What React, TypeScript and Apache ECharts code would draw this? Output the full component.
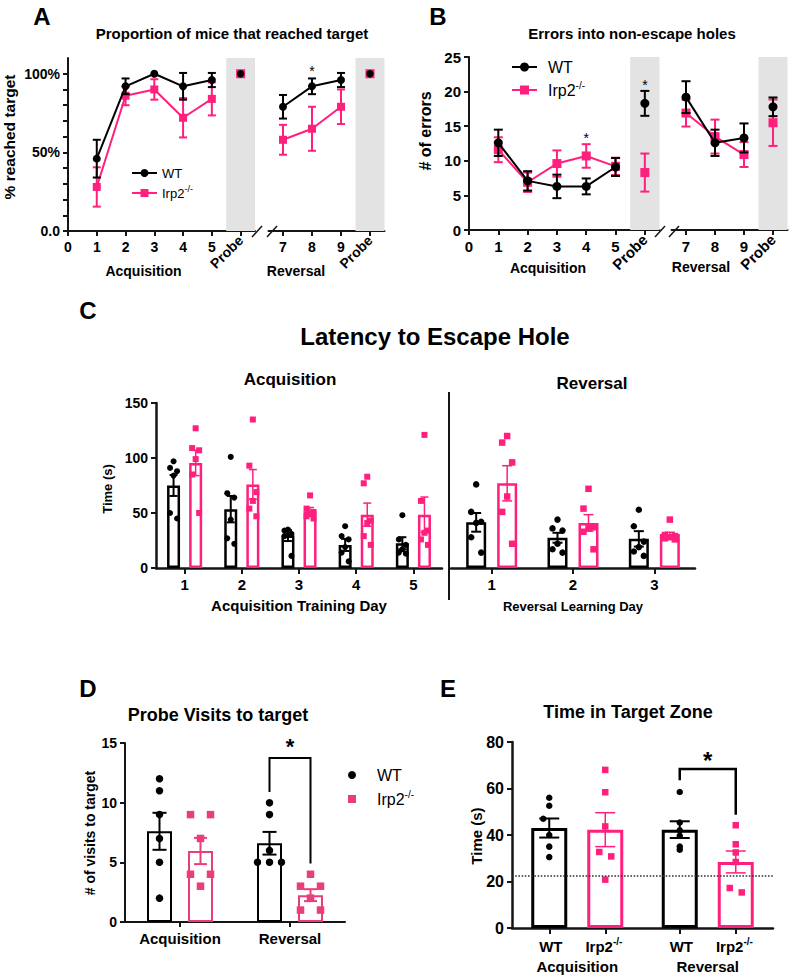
import React, { useEffect, useRef } from 'react';
import * as echarts from 'echarts';

// ---------------- Panel A: proportion of mice that reached target (%) ----------------
const aAcqDays = [1, 2, 3, 4, 5];
const aRevDays = [7, 8, 9];
const aProbeDays = [6, 10];
const aWtAcqMean = [46, 92, 100, 92, 96];
const aWtAcqSem = [12, 5, 0, 8.5, 4.5];
const aIrpAcqMean = [28, 86, 90, 72, 84];
const aIrpAcqSem = [12.5, 6, 6.5, 12.5, 10.5];
const aWtRevMean = [79, 92, 96];
const aWtRevSem = [7.5, 5, 4.5];
const aIrpRevMean = [58, 65, 79];
const aIrpRevSem = [9.5, 14, 11];
const aWtProbe = [100, 100];
const aIrpProbe = [100, 100];
const aStars = [[8, 103.5]];
const aYLabels = [0, 50, 100];

// ---------------- Panel B: errors into non-escape holes ----------------
const bAcqDays = [1, 2, 3, 4, 5];
const bRevDays = [7, 8, 9];
const bProbeDays = [6, 10];
const bWtAcqMean = [12.6, 7.1, 6.3, 6.3, 9.1];
const bWtAcqSem = [1.9, 1.4, 1.7, 1.15, 1.3];
const bIrpAcqMean = [11.6, 6.9, 9.6, 10.7, 9.2];
const bIrpAcqSem = [1.8, 1.4, 1.9, 1.7, 1.25];
const bWtRevMean = [19.2, 12.6, 13.3];
const bWtRevSem = [2.3, 1.9, 2.1];
const bIrpRevMean = [16.9, 13.5, 10.9];
const bIrpRevSem = [1.95, 2.45, 1.8];
const bWtProbe = [18.3, 17.8];
const bWtProbeSem = [1.8, 1.35];
const bIrpProbe = [8.3, 15.5];
const bIrpProbeSem = [2.75, 3.35];
const bStars = [[4, 13.8], [6, 21.4]];

// ---------------- Panel C: latency to escape hole (s) ----------------
const cAcqDays = ['1', '2', '3', '4', '5'];
const cRevDays = ['1', '2', '3'];
const cWtAcqMean = [75, 53.5, 29.5, 21, 22.5];
const cWtAcqSem = [9.5, 12, 5, 5.5, 5.5];
const cIrpAcqMean = [95.5, 76, 51.5, 48.5, 48.5];
const cIrpAcqSem = [11.5, 13.5, 3.5, 10.5, 16];
const cWtAcqPts = [
  [97, 91, 88, 84, 50, 45],
  [101, 68, 64, 44, 27, 22],
  [35, 34, 31, 30, 29, 11],
  [38, 29, 26, 19, 14, 6],
  [48, 26, 21, 17, 14, 13],
];
const cIrpAcqPts = [
  [127, 109, 107, 99, 85, 50],
  [135, 93, 69, 61, 54, 47],
  [66, 54, 51, 49, 47, 45],
  [83, 77, 43, 41, 29, 21],
  [121, 61, 34, 32, 26, 21],
];
const cWtRevMean = [41.5, 27.5, 26.5];
const cWtRevSem = [8.5, 4.5, 7];
const cIrpRevMean = [77, 41, 31];
const cIrpRevSem = [16, 7.5, 1.5];
const cWtRevPts = [
  [76, 51, 42, 41, 28, 14],
  [44, 36, 34, 22, 17, 14],
  [53, 38, 24, 19, 15, 11],
];
const cIrpRevPts = [
  [120, 114, 96, 65, 51, 22],
  [72, 54, 37, 36, 33, 17],
  [44, 30, 29, 28, 27, 26],
];

// ---------------- Panel D: probe visits to target ----------------
const dGroups = ['Acquisition', 'Reversal'];
const dWtMean = [7.6, 6.6];
const dWtSem = [1.55, 0.95];
const dIrpMean = [5.95, 2.25];
const dIrpSem = [1.1, 0.5];
const dWtPts = [[12, 11, 9, 7, 5, 2], [10, 9, 6, 5, 5, 5]];
const dIrpPts = [[9, 9, 7, 4, 4, 3], [4, 3, 3, 2, 1, 1]];
const dWtCols = [[0, 0, 0, 0, 0, 0], [0, 0, 0, -1, 0, 1]];
const dIrpCols = [[-1, 1, 0, -1, 1, 0], [0, -1, 1, 0, -1, 1]];
const dBracket = [1, 13.75, 10.9, 4.9];

// ---------------- Panel E: time in target zone (s) ----------------
const eGroups = ['Acquisition', 'Reversal'];
const eWtMean = [43, 42.3];
const eWtSem = [4.1, 3.6];
const eIrpMean = [42.3, 28.4];
const eIrpSem = [7.3, 4.7];
const eWtPts = [[56, 52.6, 47, 40, 35, 30.5], [58.5, 45.4, 42, 39.7, 35, 33.7]];
const eIrpPts = [[68, 58.4, 43.7, 32.7, 30.8, 20.8], [44.2, 36, 32.5, 28.4, 17.2, 15.3]];
const eWtCols = [[0, 0, -1, 0, 0, 0], [0, 0, 0, 0, 0, 0]];
const eIrpCols = [[0, 0, 0, -1, 1, 0], [0, 0, 0, 0, -1, 1]];
const eChance = 22.6;
const eBracket = [1, 68.4, 63.5, 48.7];

// ---------------- styles ----------------
const FONT = "'Liberation Sans', Arial, Helvetica, sans-serif";
const BLACK = '#000000';
const PINK = '#ff1f7d';
const PINK_D = '#ea3d7c';
const AXC = '#151515';
const BAND = '#e3e3e3';
const JIT = [0, -1, 1, 0, -1, 1];

const lab = (size: number, margin: number, extra: any = {}) => ({
  color: '#000', fontFamily: FONT, fontWeight: 'bold', fontSize: size, margin, ...extra,
});
const aline = (w = 2) => ({ show: true, onZero: false, lineStyle: { color: AXC, width: w } });
const atick = (len = 5, w = 2, extra: any = {}) => ({ show: true, length: len, lineStyle: { color: AXC, width: w }, ...extra });
const noSplit = { show: false };
const offOf = (bw: number, gap: number) => (bw * (1 + gap)) / 2;

function txt(text: string, x: number, y: number, size: number, o: any = {}) {
  const align = o.align || 'center';
  const style: any = {
    text, fontSize: size, fontFamily: FONT, fontWeight: o.weight || 'bold', fill: o.color || '#000',
    align, verticalAlign: 'middle', textAlign: align, textVerticalAlign: 'middle',
  };
  if (o.rich) { style.rich = o.rich; style.lineHeight = o.lineHeight || size + 4; }
  return { type: 'text', x, y, rotation: o.rot || 0, silent: true, z: 100, style };
}
const supRich = (size: number) => ({
  s: { fontSize: size, fontFamily: FONT, fontWeight: 'normal', verticalAlign: 'top', lineHeight: size + 1, fill: '#000', color: '#000' },
});

function errRows(xs: number[], mean: number[], sem: number[]) {
  return xs.map((x, i) => [x, mean[i] - sem[i], mean[i] + sem[i]]);
}

function errSeries(xi: number, yi: number, rows: number[][], color: string, dx: number, cap: number, lw: number, z: number) {
  return {
    type: 'custom', xAxisIndex: xi, yAxisIndex: yi, z, silent: true, data: rows,
    encode: { x: 0, y: [1, 2] },
    renderItem: (_p: any, api: any) => {
      const x = api.value(0);
      const lo = api.value(1);
      const hi = api.value(2);
      if (!(hi - lo > 0)) return { type: 'group', children: [] };
      const top = api.coord([x, hi]);
      const bot = api.coord([x, lo]);
      const cx = top[0] + dx;
      const style = { stroke: color, lineWidth: lw };
      return {
        type: 'group',
        children: [
          { type: 'line', shape: { x1: cx, y1: top[1], x2: cx, y2: bot[1] }, style },
          { type: 'line', shape: { x1: cx - cap / 2, y1: top[1], x2: cx + cap / 2, y2: top[1] }, style },
          { type: 'line', shape: { x1: cx - cap / 2, y1: bot[1], x2: cx + cap / 2, y2: bot[1] }, style },
        ],
      };
    },
  };
}

function lineSeries(xi: number, yi: number, xs: number[], ys: number[], color: string, symbol: string, size: number, z: number) {
  return {
    type: 'line', xAxisIndex: xi, yAxisIndex: yi, silent: true, z,
    data: xs.map((x, i) => [x, ys[i]]),
    symbol, symbolSize: size, showSymbol: true,
    lineStyle: { color, width: 2 }, itemStyle: { color, opacity: 1 },
  };
}

function pointSeries(xi: number, yi: number, pts: number[][], color: string, symbol: string, size: number, z: number) {
  return { type: 'scatter', xAxisIndex: xi, yAxisIndex: yi, silent: true, z, data: pts, symbol, symbolSize: size, itemStyle: { color, opacity: 1 } };
}

function bandSeries(xi: number, yi: number, x: number, ymax: number) {
  return {
    type: 'scatter', xAxisIndex: xi, yAxisIndex: yi, silent: true, z: 1, symbolSize: 0,
    data: [[x, 0]],
    markArea: {
      silent: true, itemStyle: { color: BAND, opacity: 1 },
      data: [[{ xAxis: x - 0.5, yAxis: 0 }, { xAxis: x + 0.5, yAxis: ymax }]],
    },
  };
}

function starSeries(xi: number, yi: number, rows: number[][], size: number) {
  return {
    type: 'custom', xAxisIndex: xi, yAxisIndex: yi, silent: true, z: 20, data: rows,
    encode: { x: 0, y: 1 },
    renderItem: (_p: any, api: any) => {
      const pt = api.coord([api.value(0), api.value(1)]);
      return {
        type: 'text', x: pt[0], y: pt[1] + size * 0.22,
        style: { text: '*', fontSize: size, fontFamily: FONT, fontWeight: 'normal', fill: '#000', align: 'center', verticalAlign: 'middle', textAlign: 'center', textVerticalAlign: 'middle' },
      };
    },
  };
}

function barSeries(xi: number, yi: number, data: number[], color: string, bw: number, gap: number, bwid: number, extra: any = {}) {
  return {
    type: 'bar', xAxisIndex: xi, yAxisIndex: yi, silent: true, z: 2, data,
    barWidth: bw, barGap: `${gap * 100}%`,
    itemStyle: { color: '#ffffff', borderColor: color, borderWidth: bwid },
    ...extra,
  };
}

function dotSeries(xi: number, yi: number, pts: number[][], cols: number[][] | null, color: string, symbol: string, size: number, baseDx: number, colW: number) {
  const data: any[] = [];
  pts.forEach((vals, g) => vals.forEach((v, k) => {
    const c = cols ? cols[g][k] : JIT[k % JIT.length];
    data.push({ value: [g, v], symbolOffset: [baseDx + c * colW, 0] });
  }));
  return { type: 'scatter', xAxisIndex: xi, yAxisIndex: yi, silent: true, z: 4, data, symbol, symbolSize: size, itemStyle: { color, opacity: 1 } };
}

function bracketSeries(xi: number, yi: number, row: number[], dxL: number, dxR: number, lw: number, starSize: number, starGap: number) {
  return {
    type: 'custom', xAxisIndex: xi, yAxisIndex: yi, silent: true, z: 6, data: [row],
    encode: { x: 0, y: [1, 2, 3] },
    renderItem: (_p: any, api: any) => {
      const g = api.value(0);
      const top = api.coord([g, api.value(1)]);
      const l = api.coord([g, api.value(2)]);
      const r = api.coord([g, api.value(3)]);
      const xl = top[0] + dxL;
      const xr = top[0] + dxR;
      return {
        type: 'group',
        children: [
          { type: 'polyline', shape: { points: [[xl, l[1]], [xl, top[1]], [xr, top[1]], [xr, r[1]]] }, style: { stroke: '#000', lineWidth: lw, fill: null } },
          { type: 'text', x: (xl + xr) / 2, y: top[1] - starGap, style: { text: '*', fontSize: starSize, fontFamily: FONT, fontWeight: 'bold', fill: '#000', align: 'center', verticalAlign: 'middle', textAlign: 'center', textVerticalAlign: 'middle' } },
        ],
      };
    },
  };
}

function legendItem(x1: number, x2: number, y: number, color: string, marker: string, size: number, withLine: boolean) {
  const cx = (x1 + x2) / 2;
  const els: any[] = [];
  if (withLine) els.push({ type: 'line', silent: true, z: 100, shape: { x1, y1: y, x2, y2: y }, style: { stroke: color, lineWidth: 2 } });
  if (marker === 'circle') els.push({ type: 'circle', silent: true, z: 100, shape: { cx, cy: y, r: size / 2 }, style: { fill: color } });
  else els.push({ type: 'rect', silent: true, z: 100, shape: { x: cx - size / 2, y: y - size / 2, width: size, height: size }, style: { fill: color } });
  return els;
}

function buildOption() {
  // bar geometry
  const C1 = { bw: 13, gap: 0.7 };
  const C2 = { bw: 20, gap: 0.55 };
  const D = { bw: 25, gap: 0.64 };
  const E = { bw: 36, gap: 20 / 36 };
  const offC1 = offOf(C1.bw, C1.gap);
  const offC2 = offOf(C2.bw, C2.gap);
  const offD = offOf(D.bw, D.gap);
  const offE = offOf(E.bw, E.gap);
  const gridE = { left: 512, top: 742, width: 261, height: 186 };
  const eCatW = gridE.width / eGroups.length;
  const eTickOff = offE / eCatW;

  const grid = [
    { left: 68, top: 58, width: 187, height: 173 },
    { left: 268.5, top: 58, width: 116, height: 173 },
    { left: 469, top: 57, width: 190.5, height: 173 },
    { left: 671.5, top: 57, width: 116, height: 173 },
    { left: 156, top: 403, width: 286, height: 165 },
    { left: 451, top: 403, width: 244, height: 165 },
    { left: 125, top: 743, width: 220, height: 179 },
    gridE,
  ];

  const probeAxis = (gi: number, min: number, max: number, x: number, size: number) => ({
    type: 'value', gridIndex: gi, min, max, position: 'bottom',
    axisLine: { show: false, onZero: false }, axisTick: { show: false }, splitLine: noSplit,
    axisLabel: lab(size, 7, { customValues: [x], rotate: 45, formatter: () => 'Probe' }),
  });

  const aYTicks: number[] = [];
  for (let v = 0; v <= 100; v += 10) aYTicks.push(v);

  const catIdx = (arr: string[]) => arr.map((_, i) => i);
  const eLab = { fontSize: 15, fontWeight: 'bold', fontFamily: FONT, color: '#000', lineHeight: 20, align: 'center' };

  const xAxis: any[] = [
    // 0,1: A acquisition
    { type: 'value', gridIndex: 0, min: 0, max: 6.5, position: 'bottom', axisLine: aline(2), splitLine: noSplit,
      axisTick: atick(5, 2, { customValues: [0, ...aAcqDays, aProbeDays[0]] }),
      axisLabel: lab(14, 9, { customValues: [0, ...aAcqDays] }) },
    probeAxis(0, 0, 6.5, aProbeDays[0], 14),
    // 2,3: A reversal
    { type: 'value', gridIndex: 1, min: 6.5, max: 10.5, position: 'bottom', axisLine: aline(2), splitLine: noSplit,
      axisTick: atick(5, 2, { customValues: [...aRevDays, aProbeDays[1]] }),
      axisLabel: lab(14, 9, { customValues: aRevDays }) },
    probeAxis(1, 6.5, 10.5, aProbeDays[1], 14),
    // 4,5: B acquisition
    { type: 'value', gridIndex: 2, min: 0, max: 6.5, position: 'bottom', axisLine: aline(2), splitLine: noSplit,
      axisTick: atick(5, 2, { customValues: [0, ...bAcqDays, bProbeDays[0]] }),
      axisLabel: lab(15, 9, { customValues: [0, ...bAcqDays] }) },
    probeAxis(2, 0, 6.5, bProbeDays[0], 15),
    // 6,7: B reversal
    { type: 'value', gridIndex: 3, min: 6.5, max: 10.5, position: 'bottom', axisLine: aline(2), splitLine: noSplit,
      axisTick: atick(5, 2, { customValues: [...bRevDays, bProbeDays[1]] }),
      axisLabel: lab(15, 9, { customValues: bRevDays }) },
    probeAxis(3, 6.5, 10.5, bProbeDays[1], 15),
    // 8: C acquisition
    { type: 'category', gridIndex: 4, data: cAcqDays, position: 'bottom', axisLine: aline(2.5), splitLine: noSplit,
      axisTick: atick(6, 2, { alignWithLabel: true }), axisLabel: lab(15, 9) },
    // 9: C reversal
    { type: 'category', gridIndex: 5, data: cRevDays, position: 'bottom', axisLine: aline(2.5), splitLine: noSplit,
      axisTick: atick(6, 2, { alignWithLabel: true }), axisLabel: lab(15, 9) },
    // 10: D
    { type: 'category', gridIndex: 6, data: dGroups, position: 'bottom', axisLine: aline(2), splitLine: noSplit,
      axisTick: atick(5, 2, { alignWithLabel: true }), axisLabel: lab(15, 9) },
    // 11: E
    { type: 'category', gridIndex: 7, data: eGroups, position: 'bottom', axisLine: aline(2.5), splitLine: noSplit,
      axisTick: { show: false },
      axisLabel: {
        margin: 8, interval: 0,
        formatter: (v: string) => `{w|WT}{i|Irp2}{s|-/-}\n{g|${v}}`,
        rich: {
          w: { ...eLab, padding: [0, 23, 0, 7] },
          i: { ...eLab },
          s: { ...eLab, fontSize: 10, lineHeight: 12, verticalAlign: 'top' },
          g: { ...eLab },
        },
      } },
    // 12: E ticks at bar centres
    { type: 'value', gridIndex: 7, min: -0.5, max: 1.5, position: 'bottom', axisLine: { show: false, onZero: false },
      axisLabel: { show: false }, splitLine: noSplit,
      axisTick: atick(6, 2, { customValues: [0 - eTickOff, 0 + eTickOff, 1 - eTickOff, 1 + eTickOff] }) },
  ];

  const yAxis: any[] = [
    { type: 'value', gridIndex: 0, min: 0, max: 110, axisLine: aline(2), splitLine: noSplit,
      axisTick: atick(5, 2, { customValues: aYTicks }),
      axisLabel: lab(14, 8, { customValues: aYLabels, formatter: (v: number) => (v === 0 ? '0.0' : `${v}%`) }) },
    { type: 'value', gridIndex: 1, min: 0, max: 110, show: false },
    { type: 'value', gridIndex: 2, min: 0, max: 25, interval: 5, axisLine: aline(2), splitLine: noSplit,
      axisTick: atick(5, 2), axisLabel: lab(15, 8) },
    { type: 'value', gridIndex: 3, min: 0, max: 25, show: false },
    { type: 'value', gridIndex: 4, min: 0, max: 150, interval: 50, axisLine: aline(2.5), splitLine: noSplit,
      axisTick: atick(5, 2), axisLabel: lab(14, 8) },
    { type: 'value', gridIndex: 5, min: 0, max: 150, show: false },
    { type: 'value', gridIndex: 6, min: 0, max: 15, interval: 5, axisLine: aline(2), splitLine: noSplit,
      axisTick: atick(5, 2), axisLabel: lab(14, 8) },
    { type: 'value', gridIndex: 7, min: 0, max: 80, interval: 20, axisLine: aline(2.5), splitLine: noSplit,
      axisTick: atick(5, 2), axisLabel: lab(16, 8) },
  ];

  const series: any[] = [
    // ---- A ----
    bandSeries(0, 0, aProbeDays[0], 110),
    bandSeries(2, 1, aProbeDays[1], 110),
    errSeries(0, 0, errRows(aAcqDays, aIrpAcqMean, aIrpAcqSem), PINK, 0, 8, 2, 5),
    lineSeries(0, 0, aAcqDays, aIrpAcqMean, PINK, 'rect', 8, 5),
    errSeries(0, 0, errRows(aAcqDays, aWtAcqMean, aWtAcqSem), BLACK, 0, 8, 2, 6),
    lineSeries(0, 0, aAcqDays, aWtAcqMean, BLACK, 'circle', 8, 6),
    errSeries(2, 1, errRows(aRevDays, aIrpRevMean, aIrpRevSem), PINK, 0, 8, 2, 5),
    lineSeries(2, 1, aRevDays, aIrpRevMean, PINK, 'rect', 8, 5),
    errSeries(2, 1, errRows(aRevDays, aWtRevMean, aWtRevSem), BLACK, 0, 8, 2, 6),
    lineSeries(2, 1, aRevDays, aWtRevMean, BLACK, 'circle', 8, 6),
    pointSeries(0, 0, [[aProbeDays[0], aIrpProbe[0]]], PINK, 'rect', 9, 7),
    pointSeries(0, 0, [[aProbeDays[0], aWtProbe[0]]], BLACK, 'circle', 7.5, 8),
    pointSeries(2, 1, [[aProbeDays[1], aIrpProbe[1]]], PINK, 'rect', 9, 7),
    pointSeries(2, 1, [[aProbeDays[1], aWtProbe[1]]], BLACK, 'circle', 7.5, 8),
    starSeries(2, 1, aStars, 14),

    // ---- B ----
    bandSeries(4, 2, bProbeDays[0], 25),
    bandSeries(6, 3, bProbeDays[1], 25),
    errSeries(4, 2, errRows(bAcqDays, bIrpAcqMean, bIrpAcqSem), PINK, 0, 9, 2, 5),
    lineSeries(4, 2, bAcqDays, bIrpAcqMean, PINK, 'rect', 9, 5),
    errSeries(4, 2, errRows(bAcqDays, bWtAcqMean, bWtAcqSem), BLACK, 0, 9, 2, 6),
    lineSeries(4, 2, bAcqDays, bWtAcqMean, BLACK, 'circle', 9, 6),
    errSeries(6, 3, errRows(bRevDays, bIrpRevMean, bIrpRevSem), PINK, 0, 9, 2, 5),
    lineSeries(6, 3, bRevDays, bIrpRevMean, PINK, 'rect', 9, 5),
    errSeries(6, 3, errRows(bRevDays, bWtRevMean, bWtRevSem), BLACK, 0, 9, 2, 6),
    lineSeries(6, 3, bRevDays, bWtRevMean, BLACK, 'circle', 9, 6),
    errSeries(4, 2, [[bProbeDays[0], bIrpProbe[0] - bIrpProbeSem[0], bIrpProbe[0] + bIrpProbeSem[0]]], PINK, 0, 9, 2, 5),
    pointSeries(4, 2, [[bProbeDays[0], bIrpProbe[0]]], PINK, 'rect', 9, 7),
    errSeries(4, 2, [[bProbeDays[0], bWtProbe[0] - bWtProbeSem[0], bWtProbe[0] + bWtProbeSem[0]]], BLACK, 0, 9, 2, 6),
    pointSeries(4, 2, [[bProbeDays[0], bWtProbe[0]]], BLACK, 'circle', 9, 8),
    errSeries(6, 3, [[bProbeDays[1], bIrpProbe[1] - bIrpProbeSem[1], bIrpProbe[1] + bIrpProbeSem[1]]], PINK, 0, 9, 2, 5),
    pointSeries(6, 3, [[bProbeDays[1], bIrpProbe[1]]], PINK, 'rect', 9, 7),
    errSeries(6, 3, [[bProbeDays[1], bWtProbe[1] - bWtProbeSem[1], bWtProbe[1] + bWtProbeSem[1]]], BLACK, 0, 9, 2, 6),
    pointSeries(6, 3, [[bProbeDays[1], bWtProbe[1]]], BLACK, 'circle', 9, 8),
    starSeries(4, 2, bStars, 14),

    // ---- C acquisition ----
    barSeries(8, 4, cWtAcqMean, BLACK, C1.bw, C1.gap, 2.5),
    barSeries(8, 4, cIrpAcqMean, PINK, C1.bw, C1.gap, 2.5),
    errSeries(8, 4, errRows(catIdx(cAcqDays), cWtAcqMean, cWtAcqSem), BLACK, -offC1, 8, 2, 3),
    errSeries(8, 4, errRows(catIdx(cAcqDays), cIrpAcqMean, cIrpAcqSem), PINK, offC1, 8, 1.5, 3),
    dotSeries(8, 4, cWtAcqPts, null, BLACK, 'circle', 6, -offC1, 3.5),
    dotSeries(8, 4, cIrpAcqPts, null, PINK, 'rect', 6, offC1, 3.5),
    // ---- C reversal ----
    barSeries(9, 5, cWtRevMean, BLACK, C2.bw, C2.gap, 2.5),
    barSeries(9, 5, cIrpRevMean, PINK, C2.bw, C2.gap, 2.5),
    errSeries(9, 5, errRows(catIdx(cRevDays), cWtRevMean, cWtRevSem), BLACK, -offC2, 10, 2, 3),
    errSeries(9, 5, errRows(catIdx(cRevDays), cIrpRevMean, cIrpRevSem), PINK, offC2, 10, 1.5, 3),
    dotSeries(9, 5, cWtRevPts, null, BLACK, 'circle', 6.5, -offC2, 5),
    dotSeries(9, 5, cIrpRevPts, null, PINK, 'rect', 6.5, offC2, 5),

    // ---- D ----
    barSeries(10, 6, dWtMean, BLACK, D.bw, D.gap, 2),
    barSeries(10, 6, dIrpMean, PINK_D, D.bw, D.gap, 2),
    errSeries(10, 6, errRows(catIdx(dGroups), dWtMean, dWtSem), BLACK, -offD, 14, 2, 3),
    errSeries(10, 6, errRows(catIdx(dGroups), dIrpMean, dIrpSem), PINK_D, offD, 13, 2, 3),
    dotSeries(10, 6, dWtPts, dWtCols, BLACK, 'circle', 7.5, -offD, 12),
    dotSeries(10, 6, dIrpPts, dIrpCols, PINK_D, 'rect', 7.5, offD, 10),
    bracketSeries(10, 6, dBracket, -offD, offD, 2, 22, 11),

    // ---- E ----
    barSeries(11, 7, eWtMean, BLACK, E.bw, E.gap, 3, {
      markLine: {
        silent: true, symbol: ['none', 'none'], label: { show: false },
        lineStyle: { color: '#333', type: 'dotted', width: 1.6 },
        data: [{ yAxis: eChance }],
      },
    }),
    barSeries(11, 7, eIrpMean, PINK, E.bw, E.gap, 3),
    errSeries(11, 7, errRows(catIdx(eGroups), eWtMean, eWtSem), BLACK, -offE, 20, 2, 3),
    errSeries(11, 7, errRows(catIdx(eGroups), eIrpMean, eIrpSem), PINK, offE, 20, 1.5, 3),
    dotSeries(11, 7, eWtPts, eWtCols, BLACK, 'circle', 6.5, -offE, 6),
    dotSeries(11, 7, eIrpPts, eIrpCols, PINK, 'rect', 6.5, offE, 6),
    bracketSeries(11, 7, eBracket, -offE, offE, 2.5, 24, 8),
  ];

  const rot = Math.PI / 2;
  const graphic: any[] = [
    // panel letters
    txt('A', 42, 16, 24), txt('B', 438, 16, 24), txt('C', 88, 310, 24), txt('D', 88, 688, 24), txt('E', 448, 688, 24),
    // titles
    txt('Proportion of mice that reached target', 232, 33, 15),
    txt('Errors into non-escape holes', 632, 33, 15),
    txt('Latency to Escape Hole', 435, 336, 24),
    txt('Acquisition', 290, 379, 17),
    txt('Reversal', 592, 383, 17),
    txt('Probe Visits to target', 218, 715, 18),
    txt('Time in Target Zone', 628, 712, 18),
    // axis names
    txt('% reached target', 9.5, 137, 15.5, { rot }),
    txt('# of errors', 425, 131, 16, { rot }),
    txt('Time (s)', 107, 489, 13, { rot }),
    txt('# of visits to target', 90, 833, 14, { rot }),
    txt('Time (s)', 476, 836, 15, { rot }),
    txt('Acquisition', 143.5, 271, 14),
    txt('Reversal', 296, 271, 14),
    txt('Acquisition', 548, 268, 14),
    txt('Reversal', 701, 267, 14),
    txt('Acquisition Training Day', 299, 605, 15),
    txt('Reversal Learning Day', 573, 606, 13),
    // legends
    ...legendItem(132, 157, 173, BLACK, 'circle', 8, true),
    txt('WT', 162, 173, 13, { align: 'left', weight: 'normal' }),
    ...legendItem(132, 157, 193, PINK, 'rect', 8, true),
    txt('Irp2{s|-/-}', 162, 193, 13, { align: 'left', weight: 'normal', rich: supRich(9) }),
    ...legendItem(512, 537, 67, BLACK, 'circle', 9, true),
    txt('WT', 548, 67, 16, { align: 'left', weight: 'normal' }),
    ...legendItem(512, 537, 90, PINK, 'rect', 9, true),
    txt('Irp2{s|-/-}', 548, 90, 16, { align: 'left', weight: 'normal', rich: supRich(10) }),
    ...legendItem(348, 356, 775, BLACK, 'circle', 8, false),
    txt('WT', 377, 775, 16, { align: 'left', weight: 'normal' }),
    ...legendItem(348, 356, 799, PINK_D, 'rect', 8, false),
    txt('Irp2{s|-/-}', 377, 799, 16, { align: 'left', weight: 'normal', rich: supRich(10) }),
    // axis breaks
    { type: 'line', silent: true, z: 100, shape: { x1: 252, y1: 237, x2: 262, y2: 226 }, style: { stroke: AXC, lineWidth: 1.5 } },
    { type: 'line', silent: true, z: 100, shape: { x1: 267, y1: 237, x2: 277, y2: 226 }, style: { stroke: AXC, lineWidth: 1.5 } },
    { type: 'line', silent: true, z: 100, shape: { x1: 655, y1: 237, x2: 665, y2: 226 }, style: { stroke: AXC, lineWidth: 1.5 } },
    { type: 'line', silent: true, z: 100, shape: { x1: 669, y1: 237, x2: 679, y2: 226 }, style: { stroke: AXC, lineWidth: 1.5 } },
    // divider in C
    { type: 'line', silent: true, z: 100, shape: { x1: 449, y1: 392, x2: 449, y2: 600 }, style: { stroke: AXC, lineWidth: 2 } },
  ];

  return {
    animation: false,
    backgroundColor: '#ffffff',
    textStyle: { fontFamily: FONT },
    grid, xAxis, yAxis, series, graphic,
  };
}

export default function App() {
  const ref = useRef<HTMLDivElement>(null);
  useEffect(() => {
    if (!ref.current) return;
    const chart = echarts.init(ref.current, null, { renderer: 'svg' });
    chart.setOption(buildOption() as any);
    return () => chart.dispose();
  }, []);
  return (
    <div
      ref={ref}
      style={{ position: 'absolute', left: 0, top: 0, width: 790, height: 977, background: '#ffffff' }}
    />
  );
}
